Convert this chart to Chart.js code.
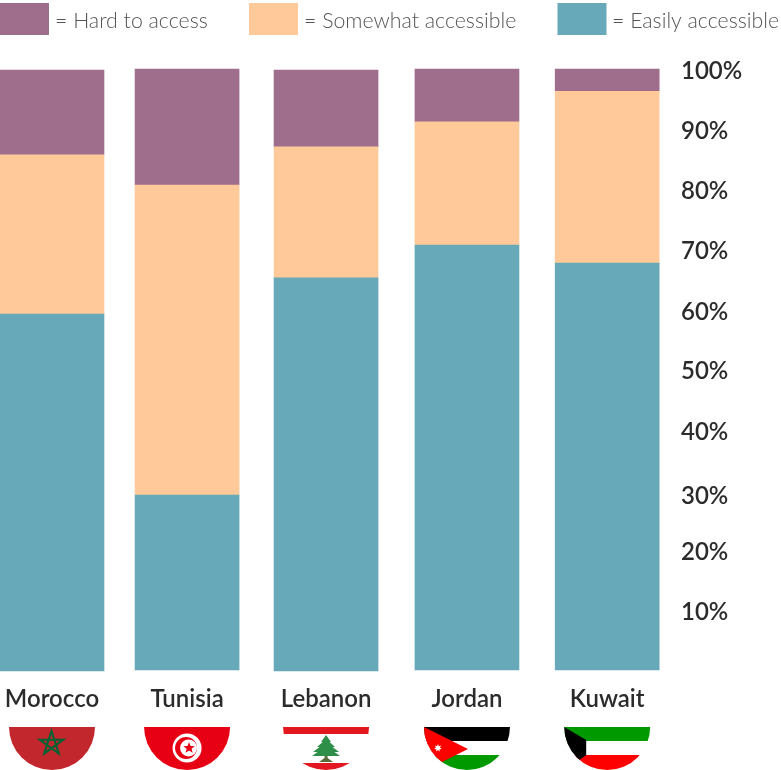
<!DOCTYPE html>
<html>
<head>
<meta charset="utf-8">
<script src="https://cdn.jsdelivr.net/npm/chart.js@4/dist/chart.umd.min.js"></script>
<style>
  html, body { margin: 0; padding: 0; background: #fff; overflow: hidden; }
  canvas { display: block; }
</style>
</head>
<body>
<canvas id="access" width="781" height="770"></canvas>
<script>
const countries = ['Morocco', 'Tunisia', 'Lebanon', 'Jordan', 'Kuwait'];
const easily = [59.4, 29.1, 65.4, 70.7, 67.7];
const somewhat = [26.5, 51.6, 21.8, 20.5, 28.6];
const hard = [14.1, 19.3, 12.8, 8.8, 3.7];
// labels in the original sit a touch off their gridded position
const yTickValues = [99.8, 89.8, 79.8, 69.8, 59.7, 49.8, 39.8, 29.1, 19.8, 9.8];
const yTickLabels = ['100%', '90%', '80%', '70%', '60%', '50%', '40%', '30%', '20%', '10%'];
// bars in the original are not quite evenly spaced, and some start a pixel higher
const slots = [0, 0.97, 1.968, 2.98, 3.987];
const lift = [0, 0.17, 0, 0.17, 0.17];

const HARD = '#9e6e8c', SOMEWHAT = '#ffc999', EASY = '#68a9b9';

// floating segments: each one starts where the ones below it ended
const segment = (vals, ...below) => vals.map((v, i) => {
  const lo = below.reduce((sum, b) => sum + b[i], lift[i]);
  return { x: slots[i], y: [lo, lo + v] };
});

function poly(ctx, pts, fill) {
  ctx.fillStyle = fill;
  ctx.beginPath();
  pts.forEach((p, i) => i ? ctx.lineTo(p[0], p[1]) : ctx.moveTo(p[0], p[1]));
  ctx.closePath();
  ctx.fill();
}

function star(ctx, x, y, r, inner, n, fill) {
  const pts = [];
  for (let i = 0; i < n * 2; i++) {
    const a = -Math.PI / 2 + i * Math.PI / n;
    const d = i % 2 ? inner : r;
    pts.push([x + d * Math.cos(a), y + d * Math.sin(a)]);
  }
  poly(ctx, pts, fill);
}

function disc(ctx, x, y, r, fill) {
  ctx.fillStyle = fill;
  ctx.beginPath();
  ctx.arc(x, y, r, 0, Math.PI * 2);
  ctx.fill();
}

// flags are drawn around (0, 0) = top centre of the half disc
const flags = {
  Morocco(ctx) {
    ctx.fillStyle = '#c1272d';
    ctx.fillRect(-44, 0, 88, 44);
    const pts = [];
    for (let i = 0; i < 5; i++) {
      const a = -Math.PI / 2 + i * 4 * Math.PI / 5;
      pts.push([-0.5 + 12.5 * Math.cos(a), 16.5 + 12.5 * Math.sin(a)]);
    }
    ctx.strokeStyle = '#006233';
    ctx.lineWidth = 2;
    ctx.beginPath();
    pts.forEach((p, i) => i ? ctx.lineTo(p[0], p[1]) : ctx.moveTo(p[0], p[1]));
    ctx.closePath();
    ctx.stroke();
  },
  Tunisia(ctx) {
    ctx.fillStyle = '#e70013';
    ctx.fillRect(-44, 0, 88, 44);
    disc(ctx, 0, 21, 14.5, '#fff');
    disc(ctx, -1, 21, 11, '#e70013');
    disc(ctx, 1.5, 21, 8.5, '#fff');
    star(ctx, 2, 21, 6, 2.6, 5, '#e70013');
  },
  Lebanon(ctx) {
    ctx.fillStyle = '#fff';
    ctx.fillRect(-44, 0, 88, 44);
    ctx.fillStyle = '#e3171f';
    ctx.fillRect(-44, 0, 88, 7);
    ctx.fillRect(-44, 36, 88, 8);
    const bark = '#5a6b3a', g = '#2e8f48';
    ctx.fillStyle = bark;
    ctx.fillRect(-1.5, 26, 3, 8);
    poly(ctx, [[-7, 35], [7, 35], [1.5, 31], [-1.5, 31]], bark);
    poly(ctx, [[0, 8], [5, 15], [-5, 15]], g);
    poly(ctx, [[0, 12], [9, 20], [-9, 20]], g);
    poly(ctx, [[0, 15], [13, 25], [-13, 25]], g);
    poly(ctx, [[0, 19], [14, 29], [-14, 29]], g);
  },
  Jordan(ctx) {
    ctx.fillStyle = '#000';
    ctx.fillRect(-44, 0, 88, 14);
    ctx.fillStyle = '#fff';
    ctx.fillRect(-44, 14, 88, 14);
    ctx.fillStyle = '#009900';
    ctx.fillRect(-44, 28, 88, 16);
    poly(ctx, [[-43, 0], [1, 22], [-43, 44]], '#ff0000');
    star(ctx, -29, 21, 4, 2, 7, '#fff');
  },
  Kuwait(ctx) {
    ctx.fillStyle = '#009900';
    ctx.fillRect(-44, 0, 88, 14);
    ctx.fillStyle = '#fff';
    ctx.fillRect(-44, 14, 88, 14);
    ctx.fillStyle = '#ff0000';
    ctx.fillRect(-44, 28, 88, 16);
    poly(ctx, [[-43, 0], [-21, 13], [-21, 28], [-43, 44]], '#000');
  }
};

const flagPlugin = {
  id: 'flags',
  afterDraw(chart) {
    const { ctx, scales } = chart;
    countries.forEach((name, i) => {
      const cx = scales.x.getPixelForValue(slots[i]);
      ctx.save();
      ctx.translate(cx, 727);
      ctx.beginPath();
      ctx.arc(0, 0, 43, 0, Math.PI);
      ctx.closePath();
      ctx.clip();
      flags[name](ctx);
      ctx.restore();
    });
  }
};

// legend boxes sit much tighter to the top than the built-in legend allows
const keyPlugin = {
  id: 'key',
  afterDraw(chart) {
    const { ctx } = chart;
    const items = [
      { label: '= Hard to access', color: HARD, x: 0 },
      { label: '= Somewhat accessible', color: SOMEWHAT, x: 249 },
      { label: '= Easily accessible', color: EASY, x: 557.5 }
    ];
    ctx.save();
    ctx.font = '300 21.3px Lato';
    ctx.textBaseline = 'middle';
    items.forEach(it => {
      ctx.fillStyle = it.color;
      ctx.fillRect(it.x, 3, 49, 32);
      ctx.fillStyle = '#555';
      ctx.fillText(it.label, Math.floor(it.x) + 55, 21);
    });
    ctx.restore();
  }
};

new Chart(document.getElementById('access'), {
  type: 'bar',
  data: {
    datasets: [
      { label: 'Easily accessible', data: segment(easily), backgroundColor: EASY },
      { label: 'Somewhat accessible', data: segment(somewhat, easily), backgroundColor: SOMEWHAT },
      { label: 'Hard to access', data: segment(hard, easily, somewhat), backgroundColor: HARD }
    ]
  },
  plugins: [flagPlugin, keyPlugin],
  options: {
    responsive: false,
    animation: false,
    barThickness: 104,
    grouped: false,
    clip: false,
    layout: { padding: { top: 70, left: 0, right: 0, bottom: 0 } },
    plugins: {
      legend: { display: false },
      tooltip: { enabled: false },
      title: { display: false }
    },
    scales: {
      x: {
        type: 'linear',
        offset: false,
        min: -0.3734,
        max: 4.438,
        grid: { display: false, drawTicks: false, offset: false },
        border: { display: false },
        afterBuildTicks: s => { s.ticks = slots.map(v => ({ value: v })); },
        afterFit: s => { s.height = 99; s.paddingLeft = 0; s.paddingRight = 0; },
        ticks: {
          autoSkip: false,
          maxRotation: 0,
          padding: 14,
          color: '#2b2b2b',
          font: { family: 'Lato', size: 24, weight: 600 },
          callback: v => countries[slots.indexOf(v)]
        }
      },
      y: {
        position: 'right',
        min: 0,
        max: 100,
        grid: { display: false, drawTicks: false },
        border: { display: false },
        afterBuildTicks: s => { s.ticks = yTickValues.map(v => ({ value: v })); },
        afterFit: s => { s.width = 111; },
        ticks: {
          autoSkip: false,
          padding: 11,
          color: '#2b2b2b',
          font: { family: 'Lato', size: 24, weight: 600 },
          callback: v => yTickLabels[yTickValues.indexOf(v)]
        }
      }
    }
  }
});
</script>
</body>
</html>
